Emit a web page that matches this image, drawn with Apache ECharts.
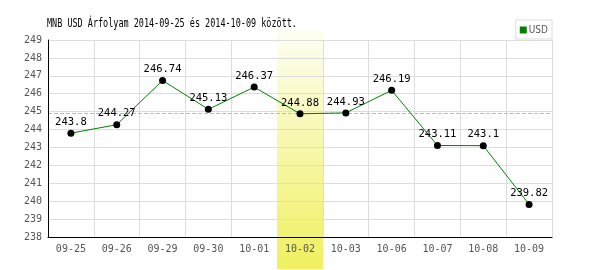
<!DOCTYPE html>
<html><head><meta charset="utf-8">
<script src="https://cdn.jsdelivr.net/npm/echarts@6/dist/echarts.min.js"></script>
<style>html,body{margin:0;padding:0;background:#fff}#c{width:600px;height:270px}</style>
</head><body><div id="c"></div>
<script>
const categories = ['09-25','09-26','09-29','09-30','10-01','10-02','10-03','10-06','10-07','10-08','10-09'];
const usdValues = [243.8,244.27,246.74,245.13,246.37,244.88,244.93,246.19,243.11,243.1,239.82];
const refLine = 244.93;
const highlightCategory = '10-02';
const titleText = 'MNB USD Árfolyam 2014-09-25 és 2014-10-09 között.';
const mono = '"DejaVu Sans Mono", "Liberation Mono", monospace';

const chart = echarts.init(document.getElementById('c'), null, {renderer:'canvas'});
chart.setOption({
  animation:false,
  legend:{data:['USD'],right:48,top:20,orient:'horizontal',borderColor:'#ddd',borderWidth:1,padding:[5,4,4,4],
    icon:'rect',itemWidth:7,itemHeight:7,itemGap:2,
    itemStyle:{color:'#008000'},
    textStyle:{fontFamily:'"Liberation Sans Narrow","DejaVu Sans Condensed","DejaVu Sans", sans-serif',fontSize:10,color:'#555',padding:[0,0,0,-3]}},
  grid:{left:48,right:48,top:40,bottom:33},
  xAxis:[
    {type:'category',data:categories,boundaryGap:true,z:0,
      axisLine:{show:false},axisTick:{show:false},axisLabel:{show:false},
      splitLine:{show:true,interval:0,lineStyle:{color:'#ddd',width:1}}},
    {type:'category',data:categories,boundaryGap:true,z:5,position:'bottom',
      axisLine:{lineStyle:{color:'#000',width:1}},axisTick:{show:false},
      axisLabel:{fontFamily:mono,fontSize:10,color:'#555',margin:7,interval:0},
      splitLine:{show:false}}
  ],
  yAxis:{type:'value',min:238,max:249,interval:1,z:5,
    axisLine:{show:true,lineStyle:{color:'#000',width:1}},axisTick:{show:false},
    axisLabel:{fontFamily:mono,fontSize:10,color:'#555',margin:6},
    splitLine:{lineStyle:{color:'#ddd',width:1}}},
  series:[{name:'USD',type:'line',xAxisIndex:0,data:usdValues,z:6,
    symbol:'circle',symbolSize:7,itemStyle:{color:'#000'},
    lineStyle:{color:'#008000',width:1},
    label:{show:true,position:'top',distance:2,fontFamily:mono,fontSize:10.5,color:'#000'},
    markLine:{silent:true,symbol:'none',label:{show:false},
      lineStyle:{color:'#a8c8a8',type:'dashed',width:1},data:[{yAxis:refLine}]}}]
});
// highlight band for one category, positioned from the axis scale
const idx = categories.indexOf(highlightCategory);
const c0 = chart.convertToPixel({xAxisIndex:0}, idx);
const c1 = chart.convertToPixel({xAxisIndex:0}, idx+1);
const bw = c1 - c0;
chart.setOption({graphic:[
  {type:'rect',z:1,silent:true,
    shape:{x:Math.round(c0-bw/2),y:29,width:Math.round(bw),height:240},
    style:{fill:new echarts.graphic.LinearGradient(0,0,0,1,[{offset:0,color:'#fefef4'},{offset:1,color:'#f0f060'}])}},
  {type:'text',z:10,silent:true,x:47,y:24,scaleX:0.706,
    style:{text:titleText,font:'12px "DejaVu Sans Mono", monospace',fill:'#000',textVerticalAlign:'middle',verticalAlign:'middle'}}
]});
</script></body></html>
